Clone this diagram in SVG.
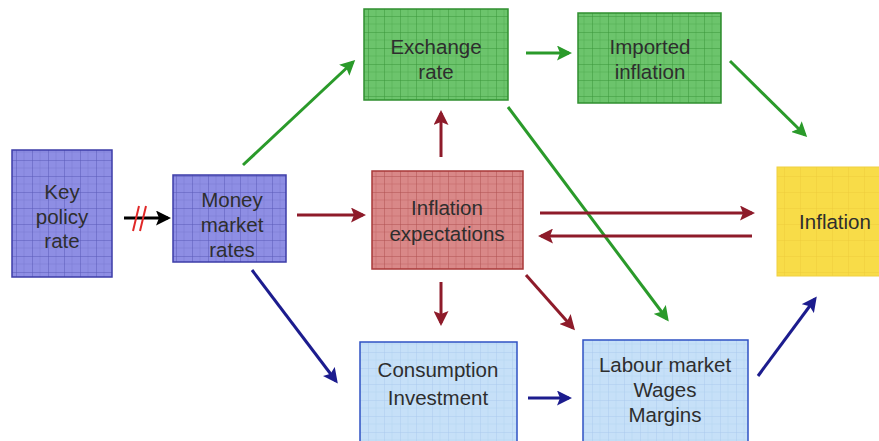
<svg xmlns="http://www.w3.org/2000/svg" width="879" height="441" viewBox="0 0 879 441">
<style>
text{font-family:"Liberation Sans",Arial,sans-serif;font-size:20.5px;fill:#2e2e2e;text-anchor:middle}
.c{fill:none;stroke-width:3}
.g{stroke:#2a9a2a}
.r{stroke:#8e1b2a}
.b{stroke:#1c1c8e}
.k{stroke:#000}
</style>
<defs>
<pattern id="pB" width="16" height="16" patternUnits="userSpaceOnUse"><rect width="16" height="16" fill="#8e8ee4"/><path d="M0 8H16M8 0V16" stroke="#7a7ad4" stroke-width="0.6"/><path d="M0 0H16M0 0V16" stroke="#5a5ab8" stroke-width="1"/></pattern>
<pattern id="pG" width="16" height="16" patternUnits="userSpaceOnUse"><rect width="16" height="16" fill="#6cc46c"/><path d="M0 8H16M8 0V16" stroke="#52ad52" stroke-width="0.6"/><path d="M0 0H16M0 0V16" stroke="#3a963a" stroke-width="1"/></pattern>
<pattern id="pR" width="16" height="16" patternUnits="userSpaceOnUse"><rect width="16" height="16" fill="#d98888"/><path d="M0 8H16M8 0V16" stroke="#c46c6c" stroke-width="0.6"/><path d="M0 0H16M0 0V16" stroke="#b05050" stroke-width="1"/></pattern>
<pattern id="pY" width="16" height="16" patternUnits="userSpaceOnUse"><rect width="16" height="16" fill="#f8dc48"/><path d="M0 0H16M0 0V16" stroke="#ecc83a" stroke-width="0.8"/></pattern>
<pattern id="pL" width="16" height="16" patternUnits="userSpaceOnUse"><rect width="16" height="16" fill="#c6e0f8"/><path d="M0 8H16M8 0V16" stroke="#b4d2f0" stroke-width="0.5"/><path d="M0 0H16M0 0V16" stroke="#a6c6ec" stroke-width="0.8"/></pattern>
<marker id="mG" viewBox="0 0 10 10" refX="8" refY="5" markerWidth="5" markerHeight="5" orient="auto"><path d="M0 0L10 5L0 10L2 5z" fill="#2a9a2a"/></marker>
<marker id="mR" viewBox="0 0 10 10" refX="8" refY="5" markerWidth="5" markerHeight="5" orient="auto"><path d="M0 0L10 5L0 10L2 5z" fill="#8e1b2a"/></marker>
<marker id="mB" viewBox="0 0 10 10" refX="8" refY="5" markerWidth="5" markerHeight="5" orient="auto"><path d="M0 0L10 5L0 10L2 5z" fill="#1c1c8e"/></marker>
<marker id="mK" viewBox="0 0 10 10" refX="8" refY="5" markerWidth="5" markerHeight="5" orient="auto"><path d="M0 0L10 5L0 10L2 5z" fill="#000"/></marker>
</defs>
<rect width="879" height="441" fill="#fff"/>
<g id="connectors">
<path class="c k" d="M124 218H168" stroke-width="2.5" marker-end="url(#mK)"/>
<path d="M133 231L139 206M140 231L146 206" stroke="#e02828" stroke-width="2" fill="none"/>
<path class="c g" d="M243 165L353 62" marker-end="url(#mG)"/>
<path class="c r" d="M297 215H363" marker-end="url(#mR)"/>
<path class="c b" d="M252 270L336 381" marker-end="url(#mB)"/>
<path class="c g" d="M526 53H569" marker-end="url(#mG)"/>
<path class="c g" d="M730 61L805 135" marker-end="url(#mG)"/>
<path class="c r" d="M441 157V113" marker-end="url(#mR)"/>
<path class="c g" d="M508 107L667 319" stroke-width="2.5" marker-end="url(#mG)"/>
<path class="c r" d="M540 213H752" marker-end="url(#mR)"/>
<path class="c r" d="M752 236H541" marker-end="url(#mR)"/>
<path class="c r" d="M441 282V323" marker-end="url(#mR)"/>
<path class="c r" d="M526 275L573 328" marker-end="url(#mR)"/>
<path class="c b" d="M528 398H569" marker-end="url(#mB)"/>
<path class="c b" d="M758 376L815 299" marker-end="url(#mB)"/>
</g>
<g id="key-policy-rate">
<rect x="12" y="150" width="100" height="127" fill="url(#pB)" stroke="#3c3ca8" stroke-width="1.5"/>
<text x="62" y="199">Key</text><text x="62" y="224">policy</text><text x="62" y="248">rate</text>
</g>
<g id="money-market-rates">
<rect x="173" y="175" width="113" height="87" fill="url(#pB)" stroke="#3c3ca8" stroke-width="1.5"/>
<text x="232" y="207">Money</text><text x="232" y="232">market</text><text x="232" y="257">rates</text>
</g>
<g id="exchange-rate">
<rect x="364" y="9" width="144" height="91" fill="url(#pG)" stroke="#2f8f2f" stroke-width="1.5"/>
<text x="436" y="54">Exchange</text><text x="436" y="79">rate</text>
</g>
<g id="imported-inflation">
<rect x="578" y="13" width="143" height="90" fill="url(#pG)" stroke="#2f8f2f" stroke-width="1.5"/>
<text x="650" y="54">Imported</text><text x="650" y="79">inflation</text>
</g>
<g id="inflation-expectations">
<rect x="372" y="171" width="151" height="98" fill="url(#pR)" stroke="#a83838" stroke-width="1.5"/>
<text x="447" y="215">Inflation</text><text x="447" y="241">expectations</text>
</g>
<g id="inflation">
<rect x="777" y="167" width="110" height="109" fill="url(#pY)" stroke="#f0d040" stroke-width="1"/>
<text x="835" y="229">Inflation</text>
</g>
<g id="consumption-investment">
<rect x="360" y="342" width="157" height="105" fill="url(#pL)" stroke="#2f52c4" stroke-width="1.5"/>
<text x="438" y="377">Consumption</text><text x="438" y="405">Investment</text>
</g>
<g id="labour-market">
<rect x="583" y="340" width="165" height="107" fill="url(#pL)" stroke="#2f52c4" stroke-width="1.5"/>
<text x="665" y="372">Labour market</text><text x="665" y="397">Wages</text><text x="665" y="422">Margins</text>
</g>
</svg>
